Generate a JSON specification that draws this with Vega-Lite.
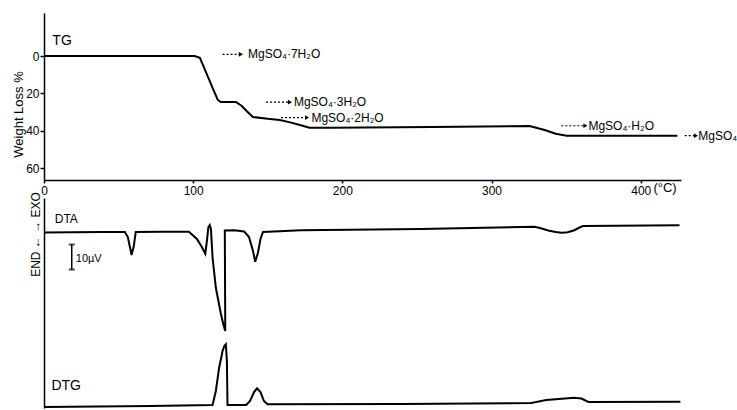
{
  "$schema": "https://vega.github.io/schema/vega-lite/v6.json",
  "background": "white",
  "padding": {"left": 12, "top": 13, "right": 0, "bottom": 0},
  "spacing": -5,
  "config": {
    "view": {"stroke": null},
    "font": "Liberation Sans",
    "axis": {
      "domainColor": "black", "tickColor": "black", "labelColor": "black", "titleColor": "black",
      "grid": false, "domainWidth": 1.5, "tickWidth": 1.5,
      "labelFont": "Liberation Sans", "titleFont": "Liberation Sans", "labelFontSize": 12, "titleFontWeight": "normal"
    }
  },
  "datasets": {
    "tg": [
      {"temp": 0, "loss": 0}, {"temp": 60, "loss": 0}, {"temp": 101, "loss": 0}, {"temp": 104.5, "loss": 1},
      {"temp": 108, "loss": 7.5}, {"temp": 113, "loss": 17}, {"temp": 116.5, "loss": 23.5}, {"temp": 118.5, "loss": 24.6},
      {"temp": 128.6, "loss": 24.6}, {"temp": 132.6, "loss": 26.7}, {"temp": 136, "loss": 29.5}, {"temp": 140, "loss": 32.6},
      {"temp": 150, "loss": 33.6}, {"temp": 158, "loss": 34.2}, {"temp": 165, "loss": 35.5}, {"temp": 171.5, "loss": 36.9},
      {"temp": 178, "loss": 38.3}, {"temp": 191.5, "loss": 38.3}, {"temp": 260, "loss": 37.9}, {"temp": 325.5, "loss": 37.4},
      {"temp": 335.6, "loss": 39.6}, {"temp": 343, "loss": 41.6}, {"temp": 350.3, "loss": 42.6}, {"temp": 424.6, "loss": 42.6}
    ],
    "dta": [
      {"i": 1, "temp": 0, "uv": -0.2}, {"i": 2, "temp": 38, "uv": 0}, {"i": 3, "temp": 54.2, "uv": 0}, {"i": 4, "temp": 56.2, "uv": -2},
      {"i": 5, "temp": 58.7, "uv": -9.2}, {"i": 6, "temp": 60.2, "uv": -5.6}, {"i": 7, "temp": 61.5, "uv": 0}, {"i": 8, "temp": 78.3, "uv": 0.1},
      {"i": 9, "temp": 97.1, "uv": 0.1}, {"i": 10, "temp": 102.5, "uv": -2.8}, {"i": 11, "temp": 105.8, "uv": -6}, {"i": 12, "temp": 108.1, "uv": -8.7},
      {"i": 13, "temp": 109.2, "uv": -3.6}, {"i": 14, "temp": 110.2, "uv": 2}, {"i": 15, "temp": 111.1, "uv": 2.8}, {"i": 16, "temp": 111.9, "uv": 1.2},
      {"i": 17, "temp": 113, "uv": -10.3}, {"i": 18, "temp": 115.2, "uv": -22.3}, {"i": 19, "temp": 118.6, "uv": -32.8}, {"i": 20, "temp": 120.5, "uv": -37.6},
      {"i": 21, "temp": 121.5, "uv": -39.6}, {"i": 22, "temp": 121.2, "uv": 0.6}, {"i": 23, "temp": 127.5, "uv": 0.7}, {"i": 24, "temp": 134.2, "uv": 0.2},
      {"i": 25, "temp": 137.4, "uv": -2}, {"i": 26, "temp": 140.1, "uv": -7.6}, {"i": 27, "temp": 141.6, "uv": -11.9}, {"i": 28, "temp": 143.4, "uv": -8.4},
      {"i": 29, "temp": 145.1, "uv": -2.8}, {"i": 30, "temp": 146.8, "uv": 0}, {"i": 31, "temp": 172.3, "uv": 0.7}, {"i": 32, "temp": 252.8, "uv": 1.2},
      {"i": 33, "temp": 328.7, "uv": 2.1}, {"i": 34, "temp": 332.5, "uv": 1.6}, {"i": 35, "temp": 338, "uv": 0.6}, {"i": 36, "temp": 343, "uv": 0},
      {"i": 37, "temp": 347, "uv": -0.3}, {"i": 38, "temp": 351, "uv": -0.1}, {"i": 39, "temp": 355.5, "uv": 0.7}, {"i": 40, "temp": 359, "uv": 1.8},
      {"i": 41, "temp": 361.3, "uv": 2.4}, {"i": 42, "temp": 426, "uv": 2.7}
    ],
    "dtg": [
      {"i": 1, "temp": 0, "rate": -2}, {"i": 2, "temp": 71.6, "rate": -1}, {"i": 3, "temp": 113, "rate": 0}, {"i": 4, "temp": 115.2, "rate": 14},
      {"i": 5, "temp": 117.4, "rate": 37.3}, {"i": 6, "temp": 119.7, "rate": 54}, {"i": 7, "temp": 120.9, "rate": 59}, {"i": 8, "temp": 121.9, "rate": 60.7},
      {"i": 9, "temp": 122.6, "rate": 44}, {"i": 10, "temp": 123, "rate": 0}, {"i": 11, "temp": 135.5, "rate": 0}, {"i": 12, "temp": 138.1, "rate": 4},
      {"i": 13, "temp": 140.8, "rate": 13}, {"i": 14, "temp": 142.8, "rate": 16.7}, {"i": 15, "temp": 145.1, "rate": 13}, {"i": 16, "temp": 147.4, "rate": 4},
      {"i": 17, "temp": 149.9, "rate": 0.7}, {"i": 18, "temp": 239.4, "rate": 1}, {"i": 19, "temp": 326.6, "rate": 2}, {"i": 20, "temp": 336.7, "rate": 5},
      {"i": 21, "temp": 355.5, "rate": 7.3}, {"i": 22, "temp": 360.2, "rate": 6.5}, {"i": 23, "temp": 364.9, "rate": 3}, {"i": 24, "temp": 426.6, "rate": 3.3}
    ],
    "notes": [
      {"x1": 119.7, "tip": 132, "tx": 135.4, "y": -0.9, "label": "MgSO₄·7H₂O"},
      {"x1": 148.8, "tip": 164.9, "tx": 166.2, "y": 24.7, "label": "MgSO₄·3H₂O"},
      {"x1": 158.9, "tip": 176.3, "tx": 177.9, "y": 32.9, "label": "MgSO₄·2H₂O"},
      {"x1": 346.8, "tip": 362.9, "tx": 363.6, "y": 37.3, "label": "MgSO₄·H₂O"},
      {"x1": 429.5, "tip": 437.0, "tx": 437.3, "y": 42.6, "label": "MgSO₄"}
    ]
  },
  "vconcat": [
    {
      "width": 637, "height": 167,
      "layer": [
        {
          "data": {"name": "tg"},
          "mark": {"type": "line", "color": "black", "strokeWidth": 2},
          "encoding": {
            "x": {"field": "temp", "type": "quantitative", "scale": {"domain": [0, 427], "nice": false, "zero": false},
              "axis": {"values": [0, 100, 200, 300, 400], "title": null, "tickSize": 3, "labelPadding": 2, "labelFlush": false}},
            "y": {"field": "loss", "type": "quantitative", "scale": {"domain": [-23, 66.3], "reverse": true, "nice": false, "zero": false},
              "axis": {"values": [0, 20, 40, 60], "title": "Weight  Loss  %", "titleFontSize": 13, "titleAngle": -90,
                "titleX": -26, "titleY": 101, "titleAlign": "center", "titleBaseline": "middle", "tickSize": 4, "labelPadding": 1}}
          }
        },
        {
          "data": {"name": "notes"},
          "mark": {"type": "rule", "color": "black", "strokeWidth": 1.2, "strokeDash": [2, 2]},
          "encoding": {"x": {"field": "x1", "type": "quantitative"}, "x2": {"field": "tip"}, "y": {"field": "y", "type": "quantitative"}}
        },
        {
          "data": {"name": "notes"},
          "mark": {"type": "point", "shape": "triangle-right", "filled": true, "color": "black", "size": 22, "opacity": 1},
          "encoding": {"x": {"field": "tip", "type": "quantitative"}, "y": {"field": "y", "type": "quantitative"}}
        },
        {
          "data": {"name": "notes"},
          "mark": {"type": "text", "align": "left", "baseline": "middle", "fontSize": 12, "color": "black", "dx": 2},
          "encoding": {"x": {"field": "tx", "type": "quantitative"}, "y": {"field": "y", "type": "quantitative"}, "text": {"field": "label"}}
        },
        {
          "data": {"values": [{"temp": 5.6, "loss": -8, "label": "TG"}, {"temp": 408.5, "loss": 70.5, "label": "(°C)"}]},
          "mark": {"type": "text", "align": "left", "baseline": "middle", "color": "black"},
          "encoding": {
            "x": {"field": "temp", "type": "quantitative"}, "y": {"field": "loss", "type": "quantitative"},
            "text": {"field": "label"},
            "size": {"field": "label", "type": "nominal", "scale": {"domain": ["TG", "(°C)"], "range": [14, 11]}, "legend": null}
          }
        }
      ]
    },
    {
      "width": 637, "height": 210,
      "resolve": {"scale": {"y": "independent"}, "axis": {"y": "independent"}},
      "layer": [
        {
          "layer": [
            {
              "data": {"name": "dta"},
              "mark": {"type": "line", "color": "black", "strokeWidth": 2},
              "encoding": {
                "x": {"field": "temp", "type": "quantitative", "scale": {"domain": [0, 427], "nice": false, "zero": false}, "axis": null},
                "y": {"field": "uv", "type": "quantitative", "scale": {"domain": [-70.4, 13.6], "nice": false, "zero": false},
                  "axis": {"title": "END ← → EXO", "ticks": false, "labels": false, "titleFontSize": 12, "titleAngle": -90,
                    "titleX": -9, "titleY": 36, "titleAlign": "center", "titleBaseline": "middle"}},
                "order": {"field": "i", "type": "quantitative"}
              }
            },
            {
              "data": {"values": [{"temp": 18.6, "uv": -5}, {"temp": 18.6, "uv": -15}]},
              "mark": {"type": "tick", "orient": "horizontal", "color": "black", "thickness": 2, "size": 6},
              "encoding": {"x": {"field": "temp", "type": "quantitative"}, "y": {"field": "uv", "type": "quantitative"}}
            },
            {
              "data": {"values": [{"temp": 18.6, "top": -5, "bottom": -15}]},
              "mark": {"type": "rule", "color": "black", "strokeWidth": 1.5},
              "encoding": {"x": {"field": "temp", "type": "quantitative"}, "y": {"field": "top", "type": "quantitative"}, "y2": {"field": "bottom"}}
            },
            {
              "data": {"values": [{"temp": 7.2, "uv": 5.2, "label": "DTA", "fs": "big"}, {"temp": 21.3, "uv": -10.6, "label": "10µV", "fs": "small"}]},
              "mark": {"type": "text", "align": "left", "baseline": "middle", "color": "black"},
              "encoding": {
                "x": {"field": "temp", "type": "quantitative"}, "y": {"field": "uv", "type": "quantitative"},
                "text": {"field": "label"},
                "size": {"field": "fs", "type": "nominal", "scale": {"domain": ["big", "small"], "range": [14, 12.5]}, "legend": null}
              }
            }
          ]
        },
        {
          "layer": [
            {
              "data": {"name": "dtg"},
              "mark": {"type": "line", "color": "black", "strokeWidth": 2},
              "encoding": {
                "x": {"field": "temp", "type": "quantitative", "scale": {"domain": [0, 427], "nice": false, "zero": false}, "axis": null},
                "y": {"field": "rate", "type": "quantitative", "scale": {"domain": [-3, 207], "nice": false, "zero": false}, "axis": null},
                "order": {"field": "i", "type": "quantitative"}
              }
            },
            {
              "data": {"values": [{"temp": 5, "rate": 19, "label": "DTG"}]},
              "mark": {"type": "text", "align": "left", "baseline": "middle", "color": "black", "fontSize": 14},
              "encoding": {"x": {"field": "temp", "type": "quantitative"}, "y": {"field": "rate", "type": "quantitative"}, "text": {"field": "label"}}
            }
          ]
        }
      ]
    }
  ]
}
